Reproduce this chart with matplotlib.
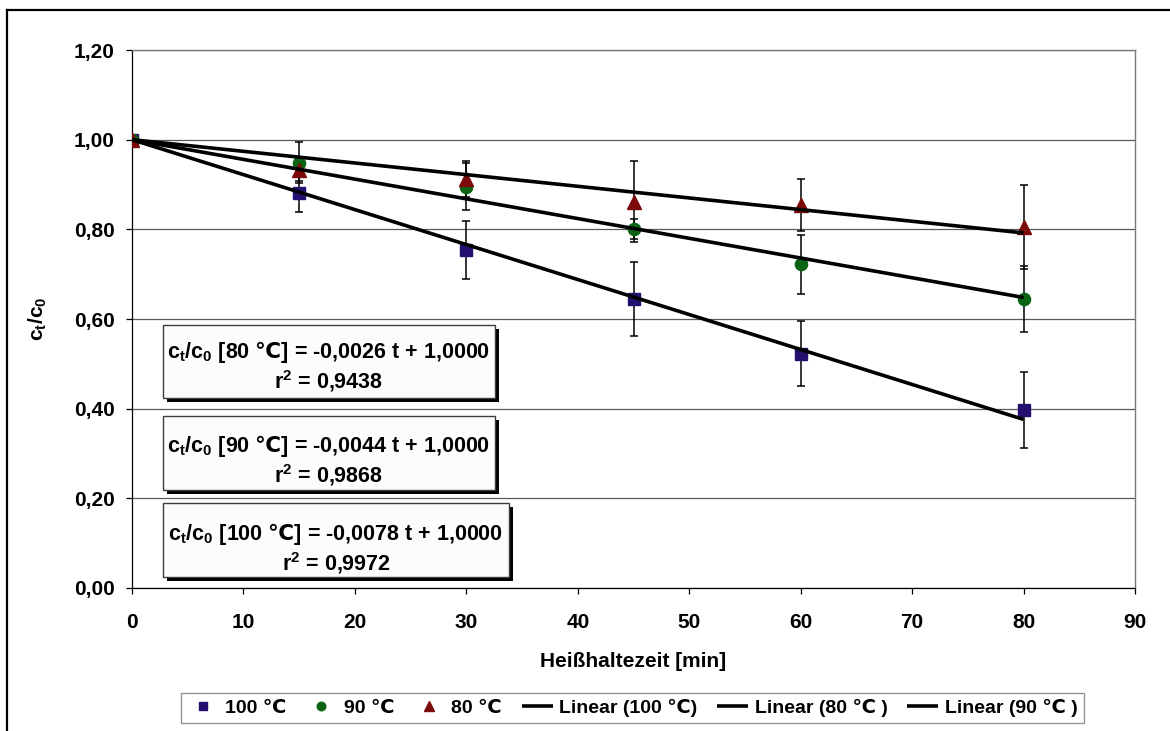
import matplotlib

matplotlib.use("Agg")

import matplotlib.pyplot as plt
import numpy as np
from matplotlib.lines import Line2D
from matplotlib.patches import Rectangle

plt.rcParams["font.family"] = ["Liberation Sans", "DejaVu Sans"]
plt.rcParams["font.weight"] = "bold"
plt.rcParams["axes.labelweight"] = "bold"
plt.rcParams["mathtext.fontset"] = "custom"
plt.rcParams["mathtext.rm"] = "Liberation Sans:bold"
plt.rcParams["mathtext.bf"] = "Liberation Sans:bold"
plt.rcParams["mathtext.it"] = "Liberation Sans:bold"
plt.rcParams["mathtext.sf"] = "DejaVu Sans:bold"
plt.rcParams["mathtext.default"] = "bf"

# --- data ---
time_min = [0, 15, 30, 45, 60, 80]

ratio_100 = [1.000, 0.880, 0.754, 0.645, 0.523, 0.397]
err_100 = [0.0, 0.042, 0.065, 0.083, 0.072, 0.084]

ratio_90 = [1.000, 0.949, 0.895, 0.800, 0.722, 0.645]
err_90 = [0.0, 0.045, 0.052, 0.022, 0.066, 0.074]

ratio_80 = [1.000, 0.932, 0.913, 0.862, 0.854, 0.805]
err_80 = [0.0, 0.025, 0.040, 0.090, 0.058, 0.093]

slope_100, slope_90, slope_80 = -0.0078, -0.0044, -0.0026
intercept = 1.0

x_ticks = [0, 10, 20, 30, 40, 50, 60, 70, 80, 90]
y_ticks = [0.0, 0.2, 0.4, 0.6, 0.8, 1.0, 1.2]
y_tick_labels = ["0,00", "0,20", "0,40", "0,60", "0,80", "1,00", "1,20"]

legend_labels = ["100 ℃", "90 ℃", "80 ℃", "Linear (100 ℃)", "Linear (80 ℃ )", "Linear (90 ℃ )"]

eq_80 = (r"c$_t$/c$_0$ [80 $\mathsf{℃}$] = -0,0026 t + 1,0000", r"r$^2$ = 0,9438")
eq_90 = (r"c$_t$/c$_0$ [90 $\mathsf{℃}$] = -0,0044 t + 1,0000", r"r$^2$ = 0,9868")
eq_100 = (r"c$_t$/c$_0$ [100 $\mathsf{℃}$] = -0,0078 t + 1,0000", r"r$^2$ = 0,9972")

COL_100 = "#24106e"
COL_90 = "#0b6414"
COL_80 = "#7d0a0a"

W, H = 1170, 731
fig = plt.figure(figsize=(W / 100, H / 100), dpi=100)
fig.patch.set_facecolor("white")

ax = fig.add_axes([132 / W, 1 - 588 / H, (1135 - 132) / W, (588 - 50) / H])
ax.set_xlim(0, 90)
ax.set_ylim(0, 1.2)
ax.set_xticks(x_ticks)
ax.set_yticks(y_ticks)
ax.set_yticklabels(y_tick_labels)
ax.yaxis.grid(True, color="#5a5a5a", linewidth=0.9)
ax.set_axisbelow(True)
ax.tick_params(axis="both", direction="out", length=4.3, width=0.9, labelsize=15, color="black")
ax.tick_params(axis="y", pad=8)
ax.tick_params(axis="x", pad=14)
for side in ("left", "bottom"):
    ax.spines[side].set_color("black")
    ax.spines[side].set_linewidth(0.9)
for side in ("top", "right"):
    ax.spines[side].set_color("#7a7a7a")
    ax.spines[side].set_linewidth(1.0)

series = [
    (ratio_100, err_100, "s", 9.0, COL_100, legend_labels[0]),
    (ratio_90, err_90, "o", 8.8, COL_90, legend_labels[1]),
    (ratio_80, err_80, "^", 10.0, COL_80, legend_labels[2]),
]
marker_handles = []
for vals, errs, mk, ms, col, lab in series:
    ax.errorbar(time_min, vals, yerr=errs, fmt="none", ecolor="black",
                elinewidth=1.1, capsize=3.2, capthick=1.1, zorder=3)
    (h,) = ax.plot(time_min, vals, linestyle="none", marker=mk, markersize=ms,
                   color=col, markeredgecolor=col, zorder=4, label=lab)
    marker_handles.append(h)

t_fit = np.array([time_min[0], time_min[-1]], dtype=float)
line_handles = []
for slope, lab in ((slope_100, legend_labels[3]), (slope_80, legend_labels[4]), (slope_90, legend_labels[5])):
    (h,) = ax.plot(t_fit, intercept + slope * t_fit, color="black", linewidth=2.6,
                   solid_capstyle="butt", zorder=5, label=lab)
    line_handles.append(h)

ax.set_xlabel("Heißhaltezeit [min]", fontsize=15, labelpad=14)
ax.set_ylabel(r"c$_t$/c$_0$", fontsize=15, labelpad=18)


def _eq_box(x0, y0, x1, y1, base1, base2, lines):
    # pixel coords (top-left origin) -> figure fraction
    w, h = (x1 - x0) / W, (y1 - y0) / H
    fig.add_artist(Rectangle(((x0 + 4) / W, 1 - (y1 + 4) / H), w, h, transform=fig.transFigure,
                             facecolor="black", edgecolor="none", zorder=6))
    fig.add_artist(Rectangle((x0 / W, 1 - y1 / H), w, h, transform=fig.transFigure,
                             facecolor="#fcfcfa", edgecolor="#3c3c3c", linewidth=1.0, zorder=7))
    cx = (x0 + x1) / 2 / W
    fig.text(cx, 1 - base1 / H, lines[0], ha="center", va="baseline", fontsize=15.5, zorder=8)
    fig.text(cx, 1 - base2 / H, lines[1], ha="center", va="baseline", fontsize=15.5, zorder=8)


_eq_box(163, 325, 495, 398, 358, 388, eq_80)
_eq_box(163, 416, 495, 490, 452, 482, eq_90)
_eq_box(163, 503, 509, 577, 540, 570, eq_100)

leg = fig.legend(marker_handles + line_handles, legend_labels, loc="center",
                 bbox_to_anchor=(632.5 / W, 1 - 708 / H), ncol=6, frameon=True, fancybox=False,
                 edgecolor="#7a7a7a", fontsize=14, handlelength=1.6, handletextpad=0.35,
                 columnspacing=1.0, borderpad=0.3, markerscale=0.7)
leg.get_frame().set_linewidth(1.0)

# outer chart frame (right and bottom edges are cut off in the original)
fig.add_artist(Line2D([7 / W, 7 / W], [0, 1 - 10 / H], transform=fig.transFigure, color="black", linewidth=1.6))
fig.add_artist(Line2D([7 / W, 1], [1 - 10 / H, 1 - 10 / H], transform=fig.transFigure, color="black", linewidth=1.6))

fig.savefig("out.png", dpi=100, facecolor=fig.get_facecolor())
plt.close(fig)
